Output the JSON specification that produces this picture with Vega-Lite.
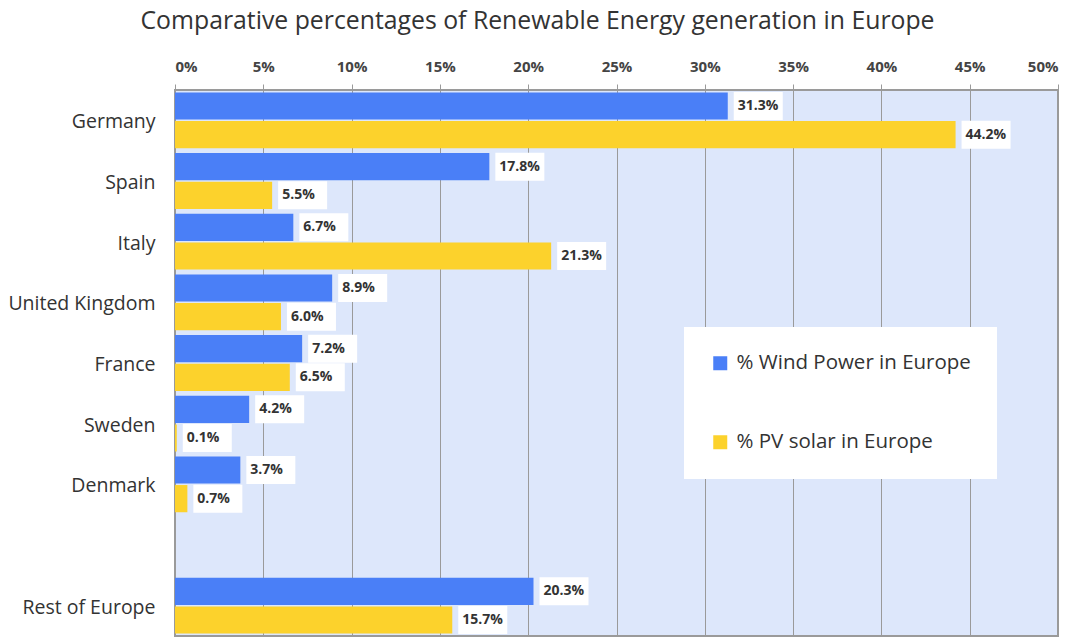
{
  "$schema": "https://vega.github.io/schema/vega-lite/v6.json",
  "width": 883,
  "height": 546,
  "autosize": {"type": "none"},
  "padding": {"left": 175, "top": 90, "right": 17, "bottom": 1},
  "background": "white",
  "title": {
    "text": "Comparative percentages of Renewable Energy generation in Europe",
    "font": "Open Sans",
    "fontSize": 24.8,
    "fontWeight": "normal",
    "color": "#333333",
    "anchor": "middle",
    "dx": -79,
    "offset": 25
  },
  "config": {
    "view": {"fill": "#dde7fb", "stroke": "#9a9a9a", "strokeWidth": 2},
    "font": "Open Sans"
  },
  "data": {
    "values": [
      {"country": "Germany", "series": "% Wind Power in Europe", "value": 31.3},
      {"country": "Germany", "series": "% PV solar in Europe", "value": 44.2},
      {"country": "Spain", "series": "% Wind Power in Europe", "value": 17.8},
      {"country": "Spain", "series": "% PV solar in Europe", "value": 5.5},
      {"country": "Italy", "series": "% Wind Power in Europe", "value": 6.7},
      {"country": "Italy", "series": "% PV solar in Europe", "value": 21.3},
      {"country": "United Kingdom", "series": "% Wind Power in Europe", "value": 8.9},
      {"country": "United Kingdom", "series": "% PV solar in Europe", "value": 6.0},
      {"country": "France", "series": "% Wind Power in Europe", "value": 7.2},
      {"country": "France", "series": "% PV solar in Europe", "value": 6.5},
      {"country": "Sweden", "series": "% Wind Power in Europe", "value": 4.2},
      {"country": "Sweden", "series": "% PV solar in Europe", "value": 0.1},
      {"country": "Denmark", "series": "% Wind Power in Europe", "value": 3.7},
      {"country": "Denmark", "series": "% PV solar in Europe", "value": 0.7},
      {"country": "Rest of Europe", "series": "% Wind Power in Europe", "value": 20.3},
      {"country": "Rest of Europe", "series": "% PV solar in Europe", "value": 15.7}
    ]
  },
  "encoding": {
    "y": {
      "field": "country",
      "type": "nominal",
      "title": null,
      "scale": {
        "domain": ["Germany", "Spain", "Italy", "United Kingdom", "France", "Sweden", "Denmark", " ", "Rest of Europe"],
        "paddingInner": 0.08,
        "paddingOuter": 0.04
      },
      "axis": {
        "domain": false,
        "ticks": false,
        "labelFontSize": 19.5,
        "labelColor": "#333333",
        "labelPadding": 20,
        "labelFont": "Open Sans",
        "labelOffset": 2
      }
    },
    "yOffset": {
      "field": "series",
      "type": "nominal",
      "sort": ["% Wind Power in Europe", "% PV solar in Europe"],
      "scale": {"paddingInner": 0.05}
    },
    "x": {
      "field": "value",
      "type": "quantitative",
      "title": null,
      "scale": {"domain": [0, 50], "nice": false},
      "axis": {
        "orient": "top",
        "values": [0, 5, 10, 15, 20, 25, 30, 35, 40, 45, 50],
        "labelExpr": "datum.value + '%'",
        "labelFontSize": 15,
        "labelFontWeight": "bold",
        "labelColor": "#444444",
        "labelPadding": 10,
        "tickSize": 6,
        "tickColor": "#9a9a9a",
        "domain": false,
        "grid": true,
        "gridColor": "#9a9a9a",
        "gridWidth": 1,
        "gridOpacity": 1
      }
    }
  },
  "layer": [
    {
      "mark": {"type": "bar"},
      "encoding": {
        "color": {
          "field": "series",
          "type": "nominal",
          "sort": ["% Wind Power in Europe", "% PV solar in Europe"],
          "scale": {
            "domain": ["% Wind Power in Europe", "% PV solar in Europe"],
            "range": ["#4a7ff7", "#fcd22c"]
          },
          "legend": {
            "title": null,
            "orient": "none",
            "legendX": 509,
            "legendY": 237,
            "fillColor": "white",
            "padding": 26,
            "rowPadding": 58,
            "symbolType": "square",
            "symbolSize": 196,
            "symbolStrokeWidth": 0,
            "labelFontSize": 20.5,
            "labelColor": "#333333",
            "labelOffset": 6,
            "labelLimit": 400
          }
        }
      }
    },
    {
      "mark": {
        "type": "point",
        "shape": "M0.24,-0.56H2.2V0.56H0.24Z",
        "size": 2500,
        "filled": true,
        "fill": "white",
        "opacity": 1,
        "strokeWidth": 0
      }
    },
    {
      "mark": {
        "type": "text",
        "align": "left",
        "baseline": "middle",
        "dx": 10,
        "fontSize": 14,
        "fontWeight": "bold",
        "color": "#333333",
        "text": {"expr": "format(datum.value, '.1f') + '%'"}
      }
    }
  ]
}
